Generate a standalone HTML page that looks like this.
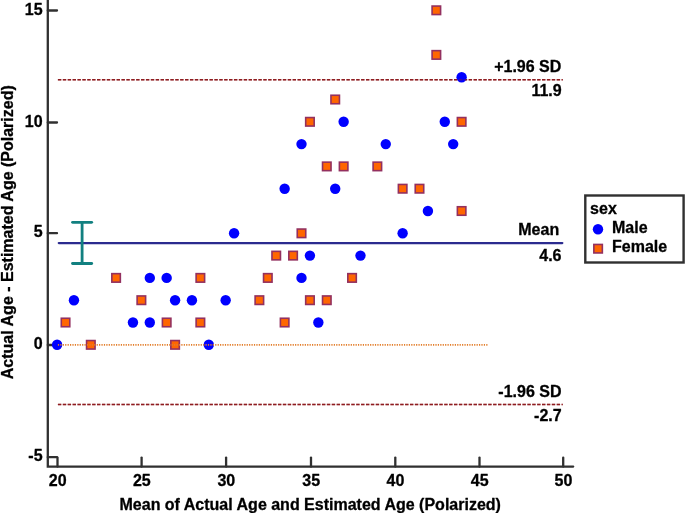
<!DOCTYPE html>
<html><head><meta charset="utf-8"><title>Bland-Altman plot</title>
<style>
html,body{margin:0;padding:0;background:#fff;}
svg{display:block;will-change:transform;}
text{font-family:"Liberation Sans",Arial,sans-serif;font-weight:bold;font-size:16px;fill:#000;stroke:#000;stroke-width:0.3px;stroke-linejoin:round;}
</style></head><body>
<svg width="685" height="513" viewBox="0 0 685 513">
<rect width="685" height="513" fill="#fff"/>

<g opacity="1">
<line x1="57.9" x2="562.8" y1="79.85" y2="79.85" stroke="#8e1c20" stroke-width="1.5" stroke-dasharray="3.4 1.49"/>
<line x1="57.9" x2="562.8" y1="404.55" y2="404.55" stroke="#8e1c20" stroke-width="1.5" stroke-dasharray="3.4 1.49"/>
<line x1="58.8" x2="562.3" y1="243.1" y2="243.1" stroke="#2b2b8f" stroke-width="2.3" stroke-linecap="round"/>
</g>
<g stroke="#303030" stroke-width="2.3" fill="none">
<path d="M47.8,-3 V466.6 H573.2" stroke-linecap="round" stroke-linejoin="miter"/>
<line x1="57.5" x2="57.5" y1="466.6" y2="457.6" stroke-linecap="round"/>
<line x1="141.6" x2="141.6" y1="466.6" y2="457.6" stroke-linecap="round"/>
<line x1="226.1" x2="226.1" y1="466.6" y2="457.6" stroke-linecap="round"/>
<line x1="311.0" x2="311.0" y1="466.6" y2="457.6" stroke-linecap="round"/>
<line x1="395.3" x2="395.3" y1="466.6" y2="457.6" stroke-linecap="round"/>
<line x1="479.5" x2="479.5" y1="466.6" y2="457.6" stroke-linecap="round"/>
<line x1="563.2" x2="563.2" y1="466.6" y2="457.6" stroke-linecap="round"/>
<line x1="47.8" x2="57.0" y1="457.2" y2="457.2" stroke-linecap="round"/>
<line x1="47.8" x2="57.0" y1="345.0" y2="345.0" stroke-linecap="round"/>
<line x1="47.8" x2="57.0" y1="233.2" y2="233.2" stroke-linecap="round"/>
<line x1="47.8" x2="57.0" y1="122.5" y2="122.5" stroke-linecap="round"/>
<line x1="47.8" x2="57.0" y1="10.5" y2="10.5" stroke-linecap="round"/>
</g>
<text x="57.7" y="485.7" text-anchor="middle">20</text>
<text x="141.79999999999998" y="485.7" text-anchor="middle">25</text>
<text x="226.29999999999998" y="485.7" text-anchor="middle">30</text>
<text x="311.2" y="485.7" text-anchor="middle">35</text>
<text x="395.5" y="485.7" text-anchor="middle">40</text>
<text x="479.7" y="485.7" text-anchor="middle">45</text>
<text x="563.4000000000001" y="485.7" text-anchor="middle">50</text>
<text x="42.6" y="461.40" text-anchor="end">-5</text>
<text x="42.6" y="349.20" text-anchor="end">0</text>
<text x="42.6" y="237.40" text-anchor="end">5</text>
<text x="42.6" y="126.70" text-anchor="end">10</text>
<text x="42.6" y="14.70" text-anchor="end">15</text>
<text x="310.2" y="509.8" text-anchor="middle">Mean of Actual Age and Estimated Age (Polarized)</text>
<text transform="translate(12.6,232.2) rotate(-90)" text-anchor="middle">Actual Age - Estimated Age (Polarized)</text>
<text x="561.3" y="71.6" text-anchor="end">+1.96 SD</text>
<text x="561.7" y="96.4" text-anchor="end">11.9</text>
<text x="559.2" y="234.9" text-anchor="end">Mean</text>
<text x="561.5" y="261.2" text-anchor="end">4.6</text>
<text x="561.5" y="396.6" text-anchor="end">-1.96 SD</text>
<text x="561.7" y="421" text-anchor="end">-2.7</text>
<rect x="61.28" y="318.25" width="8.5" height="8.5" fill="#ff6600" stroke="#93305f" stroke-width="1.6"/>
<rect x="86.56" y="340.55" width="8.5" height="8.5" fill="#ff6600" stroke="#93305f" stroke-width="1.6"/>
<rect x="111.84" y="273.65" width="8.5" height="8.5" fill="#ff6600" stroke="#93305f" stroke-width="1.6"/>
<rect x="137.12" y="295.95" width="8.5" height="8.5" fill="#ff6600" stroke="#93305f" stroke-width="1.6"/>
<rect x="162.41" y="318.25" width="8.5" height="8.5" fill="#ff6600" stroke="#93305f" stroke-width="1.6"/>
<rect x="170.84" y="340.55" width="8.5" height="8.5" fill="#ff6600" stroke="#93305f" stroke-width="1.6"/>
<rect x="196.12" y="273.65" width="8.5" height="8.5" fill="#ff6600" stroke="#93305f" stroke-width="1.6"/>
<rect x="196.12" y="318.25" width="8.5" height="8.5" fill="#ff6600" stroke="#93305f" stroke-width="1.6"/>
<rect x="255.11" y="295.95" width="8.5" height="8.5" fill="#ff6600" stroke="#93305f" stroke-width="1.6"/>
<rect x="263.54" y="273.65" width="8.5" height="8.5" fill="#ff6600" stroke="#93305f" stroke-width="1.6"/>
<rect x="271.97" y="251.35" width="8.5" height="8.5" fill="#ff6600" stroke="#93305f" stroke-width="1.6"/>
<rect x="280.39" y="318.25" width="8.5" height="8.5" fill="#ff6600" stroke="#93305f" stroke-width="1.6"/>
<rect x="288.82" y="251.35" width="8.5" height="8.5" fill="#ff6600" stroke="#93305f" stroke-width="1.6"/>
<rect x="297.25" y="229.05" width="8.5" height="8.5" fill="#ff6600" stroke="#93305f" stroke-width="1.6"/>
<rect x="305.68" y="117.55" width="8.5" height="8.5" fill="#ff6600" stroke="#93305f" stroke-width="1.6"/>
<rect x="305.68" y="295.95" width="8.5" height="8.5" fill="#ff6600" stroke="#93305f" stroke-width="1.6"/>
<rect x="322.53" y="162.15" width="8.5" height="8.5" fill="#ff6600" stroke="#93305f" stroke-width="1.6"/>
<rect x="322.53" y="295.95" width="8.5" height="8.5" fill="#ff6600" stroke="#93305f" stroke-width="1.6"/>
<rect x="330.96" y="95.25" width="8.5" height="8.5" fill="#ff6600" stroke="#93305f" stroke-width="1.6"/>
<rect x="339.39" y="162.15" width="8.5" height="8.5" fill="#ff6600" stroke="#93305f" stroke-width="1.6"/>
<rect x="347.81" y="273.65" width="8.5" height="8.5" fill="#ff6600" stroke="#93305f" stroke-width="1.6"/>
<rect x="373.10" y="162.15" width="8.5" height="8.5" fill="#ff6600" stroke="#93305f" stroke-width="1.6"/>
<rect x="398.38" y="184.45" width="8.5" height="8.5" fill="#ff6600" stroke="#93305f" stroke-width="1.6"/>
<rect x="415.23" y="184.45" width="8.5" height="8.5" fill="#ff6600" stroke="#93305f" stroke-width="1.6"/>
<rect x="432.09" y="6.05" width="8.5" height="8.5" fill="#ff6600" stroke="#93305f" stroke-width="1.6"/>
<rect x="432.09" y="50.65" width="8.5" height="8.5" fill="#ff6600" stroke="#93305f" stroke-width="1.6"/>
<rect x="457.37" y="117.55" width="8.5" height="8.5" fill="#ff6600" stroke="#93305f" stroke-width="1.6"/>
<rect x="457.37" y="206.75" width="8.5" height="8.5" fill="#ff6600" stroke="#93305f" stroke-width="1.6"/>
<circle cx="57.10" cy="344.80" r="5.2" fill="#0000ff"/>
<circle cx="73.95" cy="300.20" r="5.2" fill="#0000ff"/>
<circle cx="132.95" cy="322.50" r="5.2" fill="#0000ff"/>
<circle cx="149.80" cy="322.50" r="5.2" fill="#0000ff"/>
<circle cx="149.80" cy="277.90" r="5.2" fill="#0000ff"/>
<circle cx="166.66" cy="277.90" r="5.2" fill="#0000ff"/>
<circle cx="175.09" cy="300.20" r="5.2" fill="#0000ff"/>
<circle cx="191.94" cy="300.20" r="5.2" fill="#0000ff"/>
<circle cx="208.79" cy="344.80" r="5.2" fill="#0000ff"/>
<circle cx="225.65" cy="300.20" r="5.2" fill="#0000ff"/>
<circle cx="234.08" cy="233.30" r="5.2" fill="#0000ff"/>
<circle cx="284.64" cy="188.70" r="5.2" fill="#0000ff"/>
<circle cx="301.50" cy="144.10" r="5.2" fill="#0000ff"/>
<circle cx="301.50" cy="277.90" r="5.2" fill="#0000ff"/>
<circle cx="309.93" cy="255.60" r="5.2" fill="#0000ff"/>
<circle cx="318.35" cy="322.50" r="5.2" fill="#0000ff"/>
<circle cx="335.21" cy="188.70" r="5.2" fill="#0000ff"/>
<circle cx="343.64" cy="121.80" r="5.2" fill="#0000ff"/>
<circle cx="360.49" cy="255.60" r="5.2" fill="#0000ff"/>
<circle cx="385.77" cy="144.10" r="5.2" fill="#0000ff"/>
<circle cx="402.63" cy="233.30" r="5.2" fill="#0000ff"/>
<circle cx="427.91" cy="211.00" r="5.2" fill="#0000ff"/>
<circle cx="444.77" cy="121.80" r="5.2" fill="#0000ff"/>
<circle cx="453.19" cy="144.10" r="5.2" fill="#0000ff"/>
<circle cx="461.62" cy="77.20" r="5.2" fill="#0000ff"/>
<g opacity="0.4">
<line x1="57.9" x2="562.8" y1="79.85" y2="79.85" stroke="#8e1c20" stroke-width="1.5" stroke-dasharray="3.4 1.49"/>
<line x1="57.9" x2="562.8" y1="404.55" y2="404.55" stroke="#8e1c20" stroke-width="1.5" stroke-dasharray="3.4 1.49"/>
</g>
<g opacity="1">
<line x1="57.9" x2="488.2" y1="344.95" y2="344.95" stroke="#e27d2a" stroke-width="1.7" stroke-dasharray="1.2 1.22"/>
</g>
<g stroke="#128080" stroke-width="2.8" stroke-linecap="round" fill="none"><line x1="82.1" x2="82.1" y1="222.3" y2="263.5"/><line x1="72.5" x2="91.7" y1="222.3" y2="222.3"/><line x1="72.5" x2="91.7" y1="263.5" y2="263.5"/></g>
<rect x="585.3" y="195.5" width="98.3" height="67" fill="#fff" stroke="#303030" stroke-width="2.4"/>
<text x="590.1" y="214.4">sex</text>
<circle cx="598.00" cy="229.20" r="5.2" fill="#0000ff"/>
<text x="612" y="233.2">Male</text>
<rect x="593.85" y="244.45" width="8.5" height="8.5" fill="#ff6600" stroke="#93305f" stroke-width="1.6"/>
<text x="612" y="252.4">Female</text>
</svg></body></html>
